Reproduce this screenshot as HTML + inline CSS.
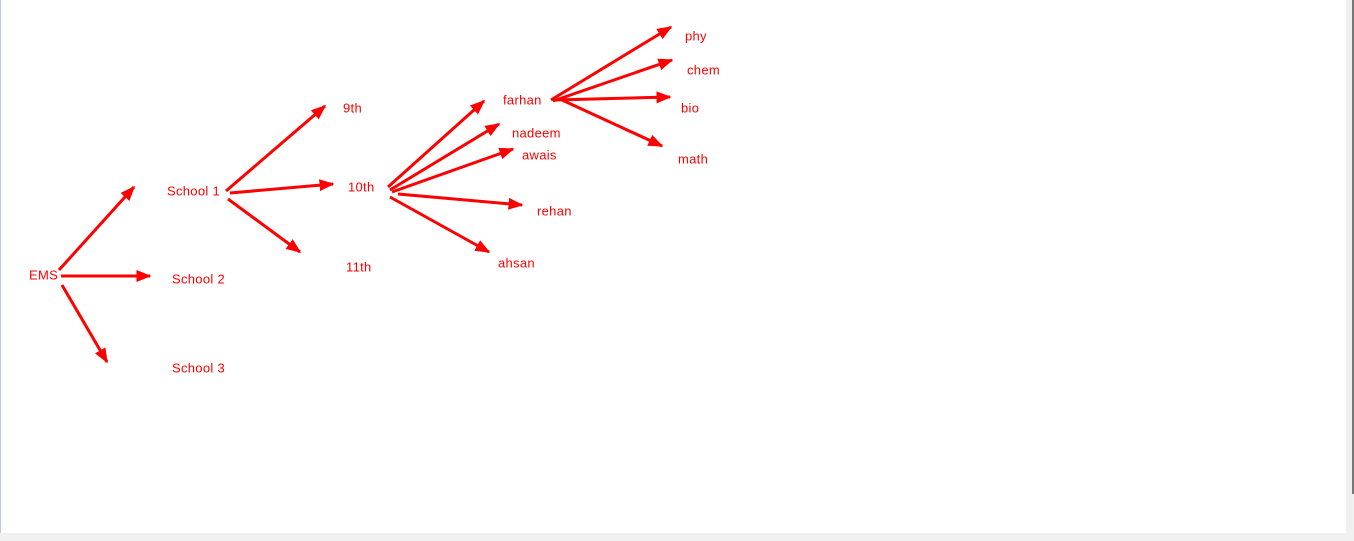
<!DOCTYPE html>
<html><head><meta charset="utf-8"><style>
html,body{margin:0;padding:0;width:1354px;height:541px;overflow:hidden;background:#f0f0f0}
svg{display:block}
text{font-family:"Liberation Sans",sans-serif;font-size:13px;letter-spacing:0.3px;fill:#ff0000;dominant-baseline:central}
</style></head><body>
<svg width="1354" height="541" xmlns="http://www.w3.org/2000/svg">
<defs><marker id="a" viewBox="0 0 10 10" refX="9" refY="5" markerWidth="5" markerHeight="5" orient="auto" markerUnits="strokeWidth"><path d="M0,1 L10,5 L0,9 z" fill="#ff0000"/></marker></defs>
<rect x="0" y="0" width="1346" height="533" fill="#fff"/>
<rect x="0" y="0" width="1" height="533" fill="#b8cce4"/>
<rect x="1352" y="0" width="2" height="494" fill="#777"/>
<g stroke="#ff0000" stroke-width="3" marker-end="url(#a)" fill="none">
<line x1="59" y1="270" x2="134" y2="187"/>
<line x1="61" y1="276" x2="150" y2="276"/>
<line x1="62" y1="285" x2="107" y2="362"/>
<line x1="226" y1="191" x2="325" y2="106"/>
<line x1="230" y1="193" x2="333" y2="184"/>
<line x1="228" y1="199" x2="300" y2="252"/>
<line x1="388" y1="187" x2="484" y2="101"/>
<line x1="390" y1="190" x2="499" y2="124"/>
<line x1="392" y1="192" x2="513" y2="149"/>
<line x1="398" y1="194" x2="522" y2="205"/>
<line x1="390" y1="197" x2="489" y2="252"/>
<line x1="551" y1="100" x2="671" y2="27"/>
<line x1="553" y1="101" x2="672" y2="60"/>
<line x1="555" y1="100" x2="670" y2="97"/>
<line x1="562" y1="100" x2="662" y2="146"/>
</g>
<text x="29" y="275">EMS</text>
<text x="167" y="191">School 1</text>
<text x="172" y="279">School 2</text>
<text x="172" y="368">School 3</text>
<text x="343" y="108">9th</text>
<text x="348" y="187">10th</text>
<text x="346" y="267">11th</text>
<text x="503" y="100">farhan</text>
<text x="512" y="133">nadeem</text>
<text x="522" y="155">awais</text>
<text x="537" y="211">rehan</text>
<text x="498" y="263">ahsan</text>
<text x="685" y="36">phy</text>
<text x="687" y="70">chem</text>
<text x="681" y="108">bio</text>
<text x="678" y="159">math</text>
</svg>
</body></html>
